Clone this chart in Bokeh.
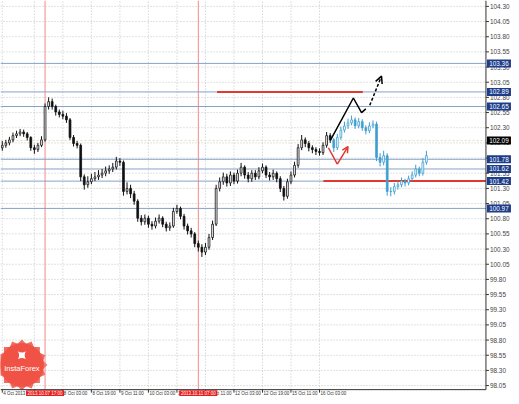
from bokeh.plotting import figure
from bokeh.models import Arrow, OpenHead, Range1d, ColumnDataSource
from bokeh.embed import file_html
from bokeh.resources import INLINE
from bokeh.core.properties import value

FONT = "Liberation Sans"

# ---------------- data ----------------
first_open = 101.97
hist_close = [102.01,102.05,102.10,102.17,102.20,102.23,102.20,102.14,101.97,101.94,
              102.01,102.10,102.65,102.73,102.65,102.56,102.52,102.49,102.43,102.14,
              102.04,102.01,101.49,101.36,101.41,101.46,101.49,101.52,101.55,101.59,
              101.62,101.65,101.75,101.73,101.25,101.30,101.21,101.09,100.81,100.75,
              100.81,100.71,100.68,100.76,100.81,100.71,100.65,100.68,100.92,100.97,
              100.84,100.68,100.60,100.55,100.39,100.33,100.25,100.33,100.49,100.71,
              101.30,101.41,101.49,101.39,101.52,101.42,101.55,101.65,101.52,101.46,
              101.55,101.49,101.59,101.65,101.52,101.49,101.55,101.46,101.30,101.17,
              101.41,101.52,101.68,101.97,102.10,102.04,101.97,101.94,101.91,101.89,
              102.01,102.17,102.10]
hist_high = [102.08,102.10,102.15,102.22,102.25,102.28,102.27,102.23,102.16,102.02,
             102.05,102.16,102.70,102.80,102.78,102.68,102.60,102.58,102.54,102.46,
             102.18,102.08,102.04,101.53,101.50,101.54,101.57,101.60,101.62,101.66,
             101.68,101.72,101.82,101.80,101.76,101.40,101.36,101.26,101.12,100.86,
             100.87,100.85,100.76,100.82,100.87,100.84,100.75,100.74,100.98,101.03,
             101.00,100.88,100.72,100.65,100.58,100.44,100.38,100.40,100.55,100.77,
             101.36,101.48,101.56,101.54,101.58,101.56,101.61,101.72,101.68,101.57,
             101.60,101.60,101.65,101.71,101.68,101.57,101.61,101.58,101.50,101.34,
             101.46,101.58,101.74,102.03,102.18,102.14,102.08,102.01,101.98,101.96,
             102.06,102.23,102.21]
hist_low = [101.92,101.97,102.01,102.06,102.13,102.16,102.15,102.09,101.92,101.87,
            101.90,101.98,102.07,102.60,102.60,102.50,102.47,102.44,102.38,102.10,
            101.99,101.96,101.42,101.28,101.31,101.37,101.42,101.44,101.47,101.50,
            101.54,101.57,101.61,101.67,101.18,101.20,101.14,101.03,100.75,100.69,
            100.70,100.65,100.62,100.64,100.72,100.66,100.59,100.60,100.65,100.88,
            100.79,100.62,100.54,100.49,100.33,100.26,100.17,100.20,100.29,100.45,
            100.68,101.25,101.36,101.33,101.34,101.37,101.38,101.50,101.46,101.40,
            101.41,101.44,101.45,101.55,101.47,101.43,101.44,101.40,101.24,101.10,
            101.13,101.37,101.48,101.64,101.93,101.98,101.91,101.88,101.85,101.84,
            101.85,101.97,102.05]
proj_close = [101.97,102.14,102.26,102.33,102.38,102.43,102.33,102.40,102.30,102.25,
              102.33,102.36,101.81,101.73,101.84,101.25,101.25,101.33,101.36,101.42,
              101.39,101.46,101.52,101.62,101.55,101.73,101.84]
proj_high = [102.13,102.20,102.32,102.40,102.45,102.50,102.47,102.46,102.44,102.34,
             102.39,102.42,102.40,101.88,101.92,101.88,101.32,101.39,101.42,101.48,
             101.46,101.51,101.58,101.69,101.66,101.80,101.92]
proj_low = [101.90,101.93,102.10,102.22,102.28,102.34,102.28,102.29,102.25,102.19,
            102.21,102.29,101.75,101.66,101.68,101.18,101.17,101.20,101.28,101.32,
            101.33,101.35,101.42,101.48,101.50,101.51,101.69]
bar_hours = list(range(0, 240, 2))

price_ticks = [98.05, 98.30, 98.55, 98.80, 99.05, 99.30, 99.55, 99.80, 100.05, 100.30,
               100.55, 100.80, 101.05, 101.30, 101.55, 101.80, 102.05, 102.30, 102.55,
               102.80, 103.05, 103.30, 103.55, 103.80, 104.05, 104.30]
time_ticks = [0, 18, 34, 50, 66, 82, 98, 114, 130, 146, 162, 178]
time_labels = ["4 Oct 2013", "7 Oct 11:00", "8 Oct 03:00", "8 Oct 19:00", "9 Oct 11:00",
               "10 Oct 03:00", "10 Oct 19:00", "11 Oct 11:00", "12 Oct 03:00",
               "12 Oct 19:00", "15 Oct 11:00", "16 Oct 03:00"]

blue_levels = [103.36, 102.89, 102.65, 101.78, 101.62, 101.42, 100.97]
current_price = 102.09
red_levels = [102.89, 101.42]
red_from = [120.5, 180.2]
red_to = [202.3, 271.4]
marker_hours = [24, 110]
marker_texts = ["2013.10.07 17:00", "2013.10.11 07:00"]

path_h = [184.1, 197.0, 201.6, 204.0]
path_p = [102.09, 102.79, 102.55, 102.61]
dash_h = [206.2, 212.8]
dash_p = [102.67, 103.15]
red_path_h = [183.0, 188.0]
red_path_p = [101.97, 101.70]
red_arrow_h = [188.0, 194.0]
red_arrow_p = [101.70, 101.99]

# ---------------- layout constants ----------------
X0, X1 = -1, 285.74          # visible hours
Y0, Y1 = 97.87, 104.397      # visible prices
AX_H = 271.4                 # hour where the price scale starts
AX_P = 97.983                # price where the time scale starts
PX_H = 1.782                 # pixels per hour
PX_P = 60.67                 # pixels per price unit

p = figure(width=511, height=396, x_range=Range1d(X0, X1), y_range=Range1d(Y0, Y1),
           x_axis_location=None, y_axis_location=None,
           toolbar_location=None, output_backend="svg",
           min_border=0, outline_line_color=None, background_fill_color="white")
p.grid.visible = False

n_pt, n_tt = len(price_ticks), len(time_ticks)
# dotted grid
p.segment(x0=[X0] * n_pt, y0=price_ticks, x1=[AX_H] * n_pt, y1=price_ticks,
          line_color="#c4c4c4", line_dash="1 2", line_width=1)
p.segment(x0=time_ticks, y0=[AX_P] * n_tt, x1=time_ticks, y1=[Y1] * n_tt,
          line_color="#c4c4c4", line_dash="1 2", line_width=1)

# logo
logo_h, logo_p = 11, 98.39
for a in (0.0, 0.3927, 0.7854, 1.1781):
    p.scatter([logo_h], [logo_p], marker="square", size=36, angle=a,
              fill_color="#ef5245", line_color=None, fill_alpha=0.85)
p.scatter([logo_h], [logo_p], marker="circle", size=44, fill_color="#ef5245",
          line_color=None, fill_alpha=0.9)
p.scatter([logo_h], [logo_p + 0.16], marker="square_pin", size=8, fill_color="white",
          line_color=None)
p.text([logo_h], [logo_p - 0.06], text=["InstaForex"], text_color="white",
       text_font=value(FONT), text_font_size="7.5px", text_align="center",
       text_baseline="middle")

# vertical red markers
n_m = len(marker_hours)
p.segment(x0=marker_hours, y0=[AX_P] * n_m, x1=marker_hours, y1=[Y1] * n_m,
          line_color="#f08a8a", line_width=1)

# horizontal levels
n_b = len(blue_levels)
p.segment(x0=[X0] * n_b, y0=blue_levels, x1=[AX_H] * n_b, y1=blue_levels,
          line_color="#88a2c6", line_width=1)
p.segment(x0=[X0], y0=[current_price], x1=[AX_H], y1=[current_price],
          line_color="#e6dcb8", line_width=1, line_dash="2 2")
p.segment(x0=red_from, y0=red_levels, x1=red_to, y1=red_levels,
          line_color="#e03a30", line_width=2)

def candles(hours, opens, closes, highs, lows, color):
    up = [i for i in range(len(hours)) if closes[i] >= opens[i]]
    dn = [i for i in range(len(hours)) if closes[i] < opens[i]]
    p.segment(x0=hours, y0=lows, x1=hours, y1=highs, line_color=color, line_width=1)
    for idx, fill in ((up, "white"), (dn, color)):
        src = ColumnDataSource(dict(
            x=[hours[i] for i in idx],
            top=[max(opens[i], closes[i]) for i in idx],
            bottom=[min(opens[i], closes[i]) for i in idx]))
        p.vbar(x="x", top="top", bottom="bottom", width=1.0, source=src,
               fill_color=fill, line_color=color, line_width=0.8)

n_hist = len(hist_close)
hist_open = [first_open] + hist_close[:-1]
proj_open = [hist_close[-1]] + proj_close[:-1]
candles(bar_hours[:n_hist], hist_open, hist_close, hist_high, hist_low, "#111111")
candles(bar_hours[n_hist:], proj_open, proj_close, proj_high, proj_low, "#3f9fd2")

# forecast drawings
p.line(path_h, path_p, line_color="black", line_width=1.5)
p.add_layout(Arrow(end=OpenHead(size=7, line_color="black", line_width=1.5),
                   x_start=dash_h[0], y_start=dash_p[0], x_end=dash_h[1], y_end=dash_p[1],
                   line_color="black", line_width=1.5, line_dash="3 2"))
p.line(red_path_h, red_path_p, line_color="#e03a30", line_width=1.5)
p.add_layout(Arrow(end=OpenHead(size=6, line_color="#e03a30", line_width=1.5),
                   x_start=red_arrow_h[0], y_start=red_arrow_p[0],
                   x_end=red_arrow_h[1], y_end=red_arrow_p[1],
                   line_color="#e03a30", line_width=1.5))

# ---------------- price scale (right) ----------------
p.segment(x0=[AX_H], y0=[AX_P], x1=[AX_H], y1=[Y1], line_color="#333333", line_width=1)
p.segment(x0=[AX_H] * n_pt, y0=price_ticks, x1=[AX_H + 3 / PX_H] * n_pt, y1=price_ticks,
          line_color="#333333", line_width=1)
p.text(x=[AX_H] * n_pt, y=price_ticks, text=["%.2f" % v for v in price_ticks],
       x_offset=4, text_font=value(FONT), text_font_size="6.4px", text_color="#444444",
       text_align="left", text_baseline="middle")
box_w = 24 / PX_H
box_h = 8 / PX_P
box_x = AX_H + 1 / PX_H + box_w / 2
p.rect(x=[box_x] * n_b, y=blue_levels, width=box_w, height=box_h,
       fill_color="#1d3d8a", line_color=None)
p.text(x=[box_x] * n_b, y=blue_levels, text=["%.2f" % v for v in blue_levels],
       text_font=value(FONT), text_font_size="6.4px", text_color="white",
       text_align="center", text_baseline="middle")
p.rect(x=[box_x], y=[current_price], width=box_w, height=box_h,
       fill_color="black", line_color=None)
p.text(x=[box_x], y=[current_price], text=["%.2f" % current_price],
       text_font=value(FONT), text_font_size="6.4px", text_color="white",
       text_align="center", text_baseline="middle")

# ---------------- time scale (bottom) ----------------
p.segment(x0=[X0], y0=[AX_P], x1=[AX_H], y1=[AX_P], line_color="#333333", line_width=1)
p.segment(x0=time_ticks, y0=[AX_P] * n_tt, x1=time_ticks, y1=[AX_P - 3 / PX_P] * n_tt,
          line_color="#333333", line_width=1)
p.text(x=time_ticks, y=[AX_P] * n_tt, text=time_labels, x_offset=1, y_offset=1.5,
       text_font=value(FONT), text_font_size="4.5px", text_color="#333333",
       text_align="left", text_baseline="top")
tb_w = 38 / PX_H
tb_h = (AX_P - Y0)
p.rect(x=marker_hours, y=[AX_P - tb_h / 2 - 0.5 / PX_P] * n_m, width=tb_w, height=tb_h,
       fill_color="#e41e1e", line_color=None)
p.text(x=marker_hours, y=[AX_P] * n_m, text=marker_texts, y_offset=1.5,
       text_font=value(FONT), text_font_size="4.5px", text_color="white",
       text_align="center", text_baseline="top")

open("out.html", "w").write(file_html(p, INLINE))
